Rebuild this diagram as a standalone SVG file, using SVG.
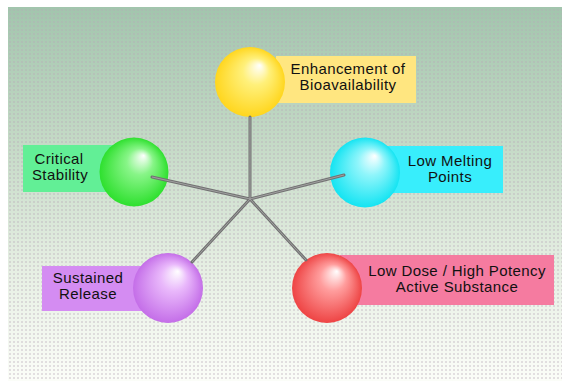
<svg xmlns="http://www.w3.org/2000/svg" width="562" height="381" viewBox="0 0 562 381">
<defs>
<linearGradient id="bg" x1="0" y1="0" x2="0" y2="1">
<stop offset="0" stop-color="#a2c5ad"/>
<stop offset="0.35" stop-color="#c3d9c5"/>
<stop offset="0.7" stop-color="#e6efe3"/>
<stop offset="1" stop-color="#fbfdf8"/>
</linearGradient>
<pattern id="dots" width="4" height="4" patternUnits="userSpaceOnUse">
<rect x="1" y="1" width="2" height="2" fill="#b8a8b8" opacity="0.35"/>
</pattern>
<radialGradient id="gY" cx="0.5" cy="0.5" r="0.5" fx="0.64" fy="0.26"><stop offset="0" stop-color="#ffffff"/><stop offset="0.38" stop-color="#fff07a"/><stop offset="1" stop-color="#ffd61e"/></radialGradient>
<radialGradient id="gG" cx="0.5" cy="0.5" r="0.5" fx="0.64" fy="0.26"><stop offset="0" stop-color="#ffffff"/><stop offset="0.38" stop-color="#88f588"/><stop offset="1" stop-color="#2ee02e"/></radialGradient>
<radialGradient id="gC" cx="0.5" cy="0.5" r="0.5" fx="0.64" fy="0.26"><stop offset="0" stop-color="#ffffff"/><stop offset="0.38" stop-color="#8ff5fb"/><stop offset="1" stop-color="#14e4f2"/></radialGradient>
<radialGradient id="gP" cx="0.5" cy="0.5" r="0.5" fx="0.64" fy="0.26"><stop offset="0" stop-color="#ffffff"/><stop offset="0.38" stop-color="#e9b8fb"/><stop offset="1" stop-color="#c46ee8"/></radialGradient>
<radialGradient id="gR" cx="0.5" cy="0.5" r="0.5" fx="0.64" fy="0.26"><stop offset="0" stop-color="#ffffff"/><stop offset="0.38" stop-color="#ff9d9d"/><stop offset="1" stop-color="#ee4444"/></radialGradient>
</defs>
<style>
text{font-family:"Liberation Sans",Arial,sans-serif;font-size:15px;letter-spacing:0.4px;fill:#111111;text-anchor:middle}
.ln{stroke:#727272;stroke-width:3;stroke-linecap:round;fill:none}
.hl{stroke:#a0a0a0;stroke-width:1;fill:none}
</style>
<rect x="8" y="7" width="554" height="374" fill="url(#bg)"/>
<rect x="8" y="7" width="554" height="374" fill="url(#dots)"/>
<g id="n-bioavailability">
<rect x="276" y="56" width="140" height="47" fill="#ffe680"/>
<circle cx="250" cy="82" r="35" fill="url(#gY)"/>
<text x="348" y="74">Enhancement of</text>
<text x="348" y="90">Bioavailability</text>
</g>
<g id="n-critical">
<rect x="23" y="145" width="90" height="47" fill="#62ef96"/>
<circle cx="134" cy="172" r="34.5" fill="url(#gG)"/>
<text x="59" y="164">Critical</text>
<text x="60" y="180">Stability</text>
</g>
<g id="n-melting">
<rect x="372" y="146" width="131" height="47" fill="#38eefc"/>
<circle cx="365" cy="172.5" r="35" fill="url(#gC)"/>
<text x="450" y="166">Low Melting</text>
<text x="450" y="182">Points</text>
</g>
<g id="n-sustained">
<rect x="42" y="266" width="103" height="45" fill="#d48cf2"/>
<circle cx="168" cy="288" r="35" fill="url(#gP)"/>
<text x="88" y="283">Sustained</text>
<text x="88" y="299">Release</text>
</g>
<g id="n-lowdose">
<rect x="340" y="255" width="214" height="50" fill="#f57ba0"/>
<circle cx="327" cy="288" r="35" fill="url(#gR)"/>
<text x="457" y="276">Low Dose / High Potency</text>
<text x="457" y="292">Active Substance</text>
</g>
<g id="connectors">
<path class="ln" d="M250 199 L250 117 M250 199 L152 177 M250 199 L344 175 M250 199 L192 262 M250 199 L306 260"/>
<path class="hl" d="M250 199 L250 117 M250 199 L152 177 M250 199 L344 175 M250 199 L192 262 M250 199 L306 260"/>
</g>
</svg>
